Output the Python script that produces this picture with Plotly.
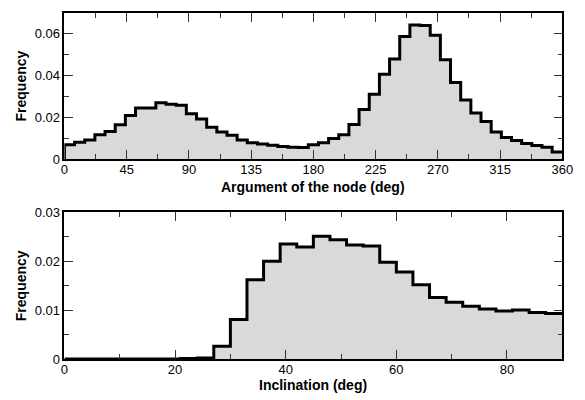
import numpy as np
import plotly.graph_objects as go

# Argument of the node histogram: 49 bins over 0-360 deg
node_range = [0, 360]
node_freq = [0.0068, 0.0080, 0.0091, 0.0117, 0.0132, 0.0164, 0.0209, 0.0244, 0.0244, 0.0269,
             0.0262, 0.0258, 0.0217, 0.0192, 0.0152, 0.0129, 0.0114, 0.0091, 0.0078, 0.0072,
             0.0066, 0.0060, 0.0057, 0.0055, 0.0068, 0.0078, 0.0098, 0.0117, 0.0166, 0.0237,
             0.0310, 0.0406, 0.0479, 0.0587, 0.0641, 0.0639, 0.0593, 0.0475, 0.0367, 0.0283,
             0.0221, 0.0180, 0.0129, 0.0103, 0.0089, 0.0074, 0.0065, 0.0057, 0.0034]
node_ticks = [0, 45, 90, 135, 180, 225, 270, 315, 360]
node_yticks = [0, 0.02, 0.04, 0.06]
node_ytick_text = ["0", "0.02", "0.04", "0.06"]

# Inclination histogram: 30 bins over 0-90 deg
inc_range = [0, 90]
inc_freq = [0, 0, 0, 0, 0, 0, 0, 0.0001, 0.0002, 0.0026,
            0.0081, 0.0162, 0.0200, 0.0235, 0.0229, 0.0251, 0.0244, 0.0233, 0.0231, 0.0198,
            0.0178, 0.0152, 0.0126, 0.0116, 0.0108, 0.0102, 0.0098, 0.0100, 0.0095, 0.0093]
inc_ticks = [0, 20, 40, 60, 80]
inc_yticks = [0, 0.01, 0.02, 0.03]
inc_ytick_text = ["0", "0.01", "0.02", "0.03"]

FONT = "Liberation Sans, Arial, sans-serif"
FILL = "rgb(217,217,217)"


def step_xy(vals, rng):
    vals = np.asarray(vals, dtype=float)
    edges = np.linspace(rng[0], rng[1], len(vals) + 1)
    xs = np.concatenate([[edges[0]], edges])
    ys = np.concatenate([[0.0], vals, [vals[-1]]])
    return xs, ys


fig = go.Figure()

x1, y1 = step_xy(node_freq, node_range)
fig.add_trace(go.Scatter(x=x1, y=y1, mode="lines", line=dict(shape="hv", color="black", width=3),
                         fill="tozeroy", fillcolor=FILL, xaxis="x", yaxis="y", showlegend=False,
                         hoverinfo="skip"))
x2, y2 = step_xy(inc_freq, inc_range)
fig.add_trace(go.Scatter(x=x2, y=y2, mode="lines", line=dict(shape="hv", color="black", width=3),
                         fill="tozeroy", fillcolor=FILL, xaxis="x2", yaxis="y2", showlegend=False,
                         hoverinfo="skip"))

xdom = [62 / 585, 573 / 585]
axis_common = dict(showline=True, linecolor="black", linewidth=1.5, mirror="ticks",
                   ticks="inside", ticklen=9, tickwidth=1.2, tickcolor="#333",
                   showgrid=False, zeroline=False, tickfont=dict(family=FONT, size=13, color="black"))

fig.update_layout(
    width=585, height=400,
    margin=dict(l=0, r=0, t=0, b=0),
    paper_bgcolor="white", plot_bgcolor="white",
    xaxis=dict(domain=xdom, range=node_range, tickvals=node_ticks, anchor="y", ticklabelstandoff=-2,
               minor=dict(ticks="inside", ticklen=5, tickwidth=1.2, tickcolor="#333", dtick=22.5),
               **axis_common),
    yaxis=dict(domain=[1 - 158 / 400, 1 - 6 / 400], range=[0, 0.07], tickvals=node_yticks,
               ticktext=node_ytick_text, anchor="x",
               minor=dict(ticks="inside", ticklen=5, tickwidth=1.2, tickcolor="#333", dtick=0.01),
               **axis_common),
    xaxis2=dict(domain=xdom, range=inc_range, tickvals=inc_ticks, anchor="y2", ticklabelstandoff=-2,
                minor=dict(ticks="inside", ticklen=5, tickwidth=1.2, tickcolor="#333", dtick=10),
                **axis_common),
    yaxis2=dict(domain=[1 - 365.7 / 400, 1 - 213.3 / 400], range=[0, 0.03], tickvals=inc_yticks,
                ticktext=inc_ytick_text, anchor="x2",
                minor=dict(ticks="inside", ticklen=5, tickwidth=1.2, tickcolor="#333", dtick=0.005),
                **axis_common),
)

title_font = dict(family=FONT, size=14, color="black")
fig.add_annotation(text="<b>Argument of the node (deg)</b>", xref="paper", yref="paper",
                   x=(62 + 573) / 2 / 585, y=1 - 187 / 400, showarrow=False, font=title_font,
                   xanchor="center", yanchor="middle", borderpad=0)
fig.add_annotation(text="<b>Inclination (deg)</b>", xref="paper", yref="paper",
                   x=(62 + 573) / 2 / 585, y=1 - 393 / 400, showarrow=False, font=title_font,
                   xanchor="center", yanchor="middle", borderpad=0)
fig.add_annotation(text="<b>Frequency</b>", xref="paper", yref="paper", textangle=-90,
                   x=17 / 585, y=1 - 82 / 400, showarrow=False, font=title_font,
                   xanchor="center", yanchor="middle")
fig.add_annotation(text="<b>Frequency</b>", xref="paper", yref="paper", textangle=-90,
                   x=17 / 585, y=1 - 289.5 / 400, showarrow=False, font=title_font,
                   xanchor="center", yanchor="middle")

fig.write_html("out.html")
